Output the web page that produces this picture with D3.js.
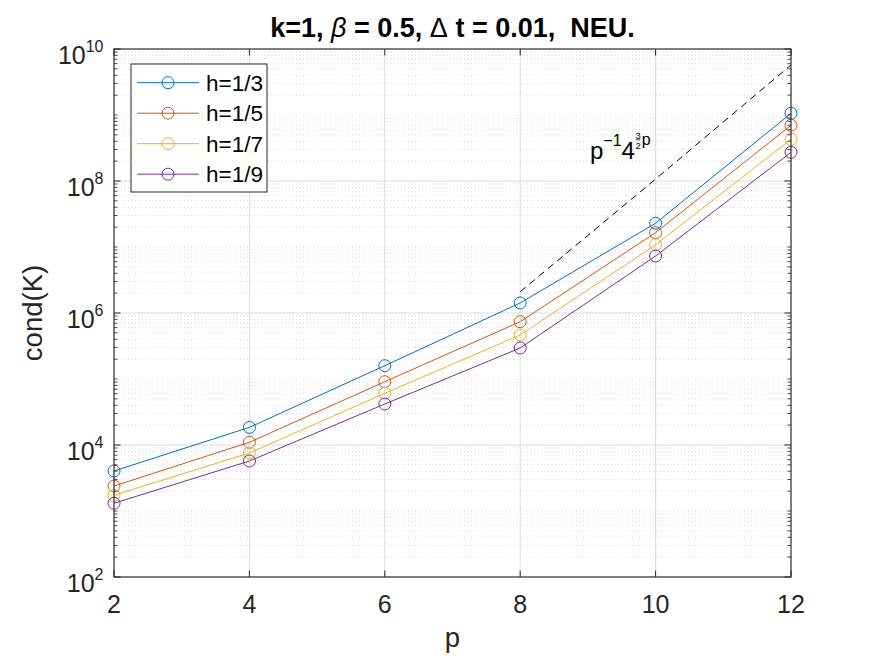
<!DOCTYPE html>
<html>
<head>
<meta charset="utf-8">
<script src="https://cdn.jsdelivr.net/npm/d3@7"></script>
<style>
  body { margin: 0; background: #fff; }
  text { font-family: "Liberation Sans", Arial, Helvetica, sans-serif; }
</style>
</head>
<body>
<div id="chart"></div>
<script>
// data
const pVals = [2, 4, 6, 8, 10, 12]
const h3 = [4040, 18500, 159000, 1.42e6, 2.29e7, 1.06e9]
const h5 = [2390, 11000, 91000, 7.38e5, 1.65e7, 6.98e8]
const h7 = [1730, 7560, 60700, 4.64e5, 1.08e7, 4.28e8]
const h9 = [1310, 5720, 41800, 2.95e5, 7.3e6, 2.72e8]
const seriesNames = ["h=1/3", "h=1/5", "h=1/7", "h=1/9"]
const seriesColors = ["#0072BD", "#D95319", "#EDB120", "#7E2F8E"]
// reference slope line p^-1 4^(3p/2)
const refP = [8, 10, 12]
const refVals = [2.1e6, 1.07e8, 5.73e9]
const xTicks = [2, 4, 6, 8, 10, 12]
const yExps = [2, 4, 6, 8, 10]

const W = 875, H = 656
const margin = { top: 49, right: 84, bottom: 79, left: 114 },
    width = W - margin.left - margin.right,
    height = H - margin.top - margin.bottom

const axisColor = "#262626"

const svg = d3.select("#chart").append("svg")
    .attr("width", W)
    .attr("height", H)

const x = d3.scaleLinear().domain([2, 12]).range([0, width])
const y = d3.scaleLog().domain([1e2, 1e10]).range([height, 0])

const g = svg.append("g")
    .attr("transform", `translate(${margin.left},${margin.top})`)

// minor positions on the log axis
let minorVals = []
for (let e = 2; e < 10; e++) {
    for (let k = 1; k <= 9; k++) {
        let v = k * Math.pow(10, e)
        if (!(k == 1 && e % 2 == 0)) minorVals.push(v)
    }
}

// minor grid (dotted)
g.selectAll(".minor-grid")
    .data(minorVals)
    .join("line")
    .attr("x1", 0).attr("x2", width)
    .attr("y1", d => y(d)).attr("y2", d => y(d))
    .attr("stroke", "#cdcdcd")
    .attr("stroke-width", 0.8)
    .attr("stroke-dasharray", "1,2.5")

// major grid
g.selectAll(".ygrid")
    .data(yExps)
    .join("line")
    .attr("x1", 0).attr("x2", width)
    .attr("y1", d => y(Math.pow(10, d))).attr("y2", d => y(Math.pow(10, d)))
    .attr("stroke", "#dcdcdc")
    .attr("stroke-width", 1)

g.selectAll(".xgrid")
    .data(xTicks)
    .join("line")
    .attr("x1", d => x(d)).attr("x2", d => x(d))
    .attr("y1", 0).attr("y2", height)
    .attr("stroke", "#dcdcdc")
    .attr("stroke-width", 1)

// series
const allSeries = [h3, h5, h7, h9]
const line = d3.line()
    .x((d, i) => x(pVals[i]))
    .y(d => y(d))

allSeries.forEach(function (vals, s) {
    g.append("path")
        .datum(vals)
        .attr("d", line)
        .attr("fill", "none")
        .attr("stroke", seriesColors[s])
        .attr("stroke-width", 1)

    g.selectAll(".m" + s)
        .data(vals)
        .join("circle")
        .attr("cx", (d, i) => x(pVals[i]))
        .attr("cy", d => y(d))
        .attr("r", 6)
        .attr("fill", "none")
        .attr("stroke", seriesColors[s])
        .attr("stroke-width", 1)
})

// dashed reference
g.append("path")
    .datum(refVals)
    .attr("d", d3.line().x((d, i) => x(refP[i])).y(d => y(d)))
    .attr("fill", "none")
    .attr("stroke", "#000")
    .attr("stroke-width", 1)
    .attr("stroke-dasharray", "7,5")

// axes box
g.append("rect")
    .attr("width", width)
    .attr("height", height)
    .attr("fill", "none")
    .attr("stroke", axisColor)
    .attr("stroke-width", 1.1)

// ticks, inward on all four sides
const majorLen = 6.5, minorLen = 3.5
xTicks.forEach(function (t) {
    g.append("line").attr("x1", x(t)).attr("x2", x(t))
        .attr("y1", height).attr("y2", height - majorLen)
        .attr("stroke", axisColor)
    g.append("line").attr("x1", x(t)).attr("x2", x(t))
        .attr("y1", 0).attr("y2", majorLen)
        .attr("stroke", axisColor)
})
yExps.forEach(function (e) {
    let yy = y(Math.pow(10, e))
    g.append("line").attr("x1", 0).attr("x2", majorLen)
        .attr("y1", yy).attr("y2", yy).attr("stroke", axisColor)
    g.append("line").attr("x1", width).attr("x2", width - majorLen)
        .attr("y1", yy).attr("y2", yy).attr("stroke", axisColor)
})
minorVals.forEach(function (v) {
    let yy = y(v)
    g.append("line").attr("x1", 0).attr("x2", minorLen)
        .attr("y1", yy).attr("y2", yy).attr("stroke", axisColor).attr("stroke-width", 0.8)
    g.append("line").attr("x1", width).attr("x2", width - minorLen)
        .attr("y1", yy).attr("y2", yy).attr("stroke", axisColor).attr("stroke-width", 0.8)
})

// tick labels
g.selectAll(".xlab")
    .data(xTicks)
    .join("text")
    .attr("x", d => x(d))
    .attr("y", height + 35.5)
    .attr("text-anchor", "middle")
    .style("font-size", "25px")
    .style("fill", axisColor)
    .text(d => d)

yExps.forEach(function (e) {
    let t = g.append("text")
        .attr("x", -10.5)
        .attr("y", y(Math.pow(10, e)) + 14.5)
        .attr("text-anchor", "end")
        .style("font-size", "25px")
        .style("fill", axisColor)
    t.append("tspan").text("10")
    t.append("tspan").attr("dy", -12).style("font-size", "16px").text(e)
})

// axis labels
svg.append("text")
    .attr("x", margin.left + width / 2)
    .attr("y", 647)
    .attr("text-anchor", "middle")
    .style("font-size", "27.5px")
    .style("fill", axisColor)
    .text("p")

svg.append("text")
    .attr("transform", `translate(42,${margin.top + height / 2}) rotate(-90)`)
    .attr("text-anchor", "middle")
    .style("font-size", "27.5px")
    .style("fill", axisColor)
    .text("cond(K)")

// title
const title = svg.append("text")
    .attr("x", margin.left + width / 2)
    .attr("y", 37)
    .attr("text-anchor", "middle")
    .style("font-size", "27px")
    .style("font-weight", "bold")
    .style("fill", "#000")
title.append("tspan").text("k=1, ")
title.append("tspan").style("font-style", "italic").style("font-weight", "normal").text("β")
title.append("tspan").text(" = 0.5, ")
title.append("tspan").style("font-weight", "normal").text("Δ")
title.append("tspan").text(" t = 0.01,\u00a0 NEU.")

// annotation p^-1 4^(3/2 p)
const annX = x(9.03), annY = 159 - margin.top
const ann = g.append("text")
    .attr("x", annX)
    .attr("y", annY)
    .style("font-size", "24px")
    .style("fill", "#000")
ann.append("tspan").text("p")
ann.append("tspan").attr("dy", -13).style("font-size", "16px").text("−1")
ann.append("tspan").attr("dy", 13).text("4")
const fracX = annX + ann.node().getComputedTextLength() + 0.5
const fracNum = g.append("text")
    .attr("x", fracX).attr("y", annY - 20.5)
    .style("font-size", "9.5px").style("fill", "#000")
    .text("3")
g.append("text")
    .attr("x", fracX).attr("y", annY - 10)
    .style("font-size", "9.5px").style("fill", "#000")
    .text("2")
const fracW = fracNum.node().getComputedTextLength()
g.append("line")
    .attr("x1", fracX + 0.3).attr("x2", fracX + fracW - 0.3)
    .attr("y1", annY - 19.2).attr("y2", annY - 19.2)
    .attr("stroke", "#000").attr("stroke-width", 0.7)
g.append("text")
    .attr("x", fracX + fracW + 1)
    .attr("y", annY - 14.5)
    .style("font-size", "16px").style("fill", "#000")
    .text("p")

// legend
const legend = svg.append("g").attr("transform", "translate(131,64)")
legend.append("rect")
    .attr("width", 136).attr("height", 128)
    .attr("fill", "#fff")
    .attr("stroke", axisColor)
    .attr("stroke-width", 1)
seriesNames.forEach(function (name, i) {
    let ly = 18.7 + i * 30.5
    legend.append("line")
        .attr("x1", 6).attr("x2", 68)
        .attr("y1", ly).attr("y2", ly)
        .attr("stroke", seriesColors[i])
    legend.append("circle")
        .attr("cx", 37).attr("cy", ly).attr("r", 6)
        .attr("fill", "none").attr("stroke", seriesColors[i])
    legend.append("text")
        .attr("x", 75).attr("y", ly + 8)
        .style("font-size", "22.5px")
        .style("fill", "#000")
        .text(name)
})
</script>
</body>
</html>
